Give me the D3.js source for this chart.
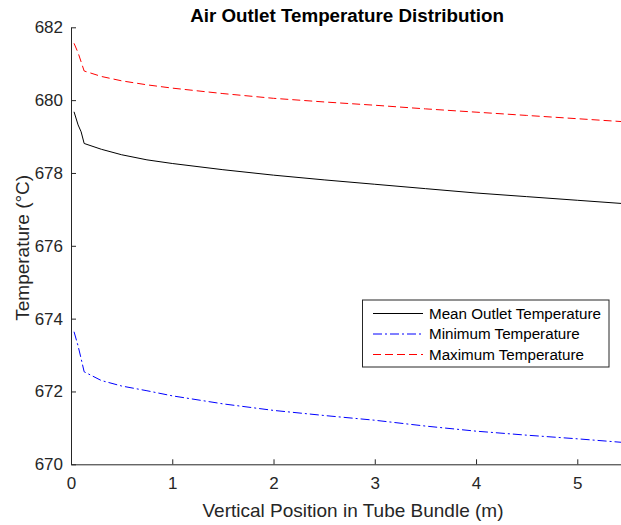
<!DOCTYPE html>
<html>
<head>
<meta charset="utf-8">
<script src="https://cdn.jsdelivr.net/npm/d3@7"></script>
<style>
  html, body { margin: 0; padding: 0; background: #fff; }
  svg { display: block; font-family: "Liberation Sans", Arial, Helvetica, sans-serif; }
</style>
</head>
<body>
<svg id="chart" width="621" height="525"></svg>
<script>
// Vertical position along the tube bundle (m)
const positions = [0.03, 0.07, 0.10, 0.13, 0.3, 0.5, 0.75, 1.0, 1.5, 2.0, 2.5, 3.0, 3.5, 4.0, 4.5, 5.0, 5.5];

// Outlet air temperatures (°C) at each position
const meanTemp = [679.68, 679.32, 679.13, 678.81, 678.65, 678.50, 678.36, 678.26, 678.09, 677.94, 677.81, 677.69, 677.57, 677.45, 677.35, 677.25, 677.15];
const minTemp  = [673.64, 673.25, 672.90, 672.54, 672.30, 672.15, 672.02, 671.88, 671.66, 671.48, 671.34, 671.21, 671.05, 670.91, 670.80, 670.70, 670.59];
const maxTemp  = [681.56, 681.30, 681.05, 680.80, 680.65, 680.53, 680.42, 680.33, 680.18, 680.05, 679.95, 679.86, 679.76, 679.67, 679.58, 679.49, 679.40];

const xTicks = [0, 1, 2, 3, 4, 5];
const yTicks = [670, 672, 674, 676, 678, 680, 682];

const seriesNames = ["Mean Outlet Temperature", "Minimum Temperature", "Maximum Temperature"];

const svg = d3.select("#chart");
const axisColor = "#262626";

const x = d3.scaleLinear().domain([0, 5.56]).range([71, 634]);
const y = d3.scaleLinear().domain([670, 682]).range([464.3, 27.3]);

// Clip region for the plot area
svg.append("clipPath").attr("id", "plotClip")
  .append("rect").attr("x", 71).attr("y", 20).attr("width", 563).attr("height", 450);

// Axes (ticks drawn inward)
const xAxis = svg.append("g")
  .attr("transform", `translate(0,${y(670)})`)
  .call(d3.axisBottom(x).tickValues(xTicks).tickFormat(d3.format("d")).tickSizeInner(-5).tickSizeOuter(0).tickPadding(13));
const yAxis = svg.append("g")
  .attr("transform", `translate(${x(0)},0)`)
  .call(d3.axisLeft(y).tickValues(yTicks).tickFormat(d3.format("d")).tickSizeInner(-5).tickSizeOuter(0).tickPadding(8));

[xAxis, yAxis].forEach(g => {
  g.select(".domain").attr("stroke", axisColor).attr("stroke-width", 1);
  g.selectAll(".tick line").attr("stroke", axisColor).attr("stroke-width", 1);
  g.selectAll(".tick text").attr("fill", axisColor).attr("font-size", 17)
    .attr("font-family", "'Liberation Sans', Arial, sans-serif");
});

// Data lines
const styles = [
  { values: meanTemp, color: "#000000", dash: null },
  { values: minTemp,  color: "#0000ff", dash: "9,3,2,3" },
  { values: maxTemp,  color: "#ff0000", dash: "8,4" }
];

const line = d3.line().x(d => x(d[0])).y(d => y(d[1]));

styles.forEach(s => {
  svg.append("path")
    .datum(positions.map((p, i) => [p, s.values[i]]))
    .attr("clip-path", "url(#plotClip)")
    .attr("fill", "none")
    .attr("stroke", s.color)
    .attr("stroke-width", 1)
    .attr("stroke-dasharray", s.dash)
    .attr("d", line);
});

// Title
svg.append("text")
  .attr("x", 347).attr("y", 22)
  .attr("text-anchor", "middle")
  .attr("font-size", 18.8).attr("font-weight", "bold")
  .attr("fill", "#000")
  .text("Air Outlet Temperature Distribution");

// Axis labels
svg.append("text")
  .attr("x", 353).attr("y", 517)
  .attr("text-anchor", "middle")
  .attr("font-size", 19)
  .attr("fill", axisColor)
  .text("Vertical Position in Tube Bundle (m)");

svg.append("text")
  .attr("transform", `translate(29,${(y(670) + y(682)) / 2 + 2}) rotate(-90)`)
  .attr("text-anchor", "middle")
  .attr("font-size", 19)
  .attr("fill", axisColor)
  .text("Temperature (°C)");

// Legend
const legend = svg.append("g");
legend.append("rect")
  .attr("x", 362.5).attr("y", 300).attr("width", 246.5).attr("height", 67)
  .attr("fill", "#fff").attr("stroke", axisColor).attr("stroke-width", 1);

const rowY = [313.5, 334, 354.5];
styles.forEach((s, i) => {
  legend.append("line")
    .attr("x1", 373).attr("x2", 423)
    .attr("y1", rowY[i]).attr("y2", rowY[i])
    .attr("stroke", s.color).attr("stroke-width", 1)
    .attr("stroke-dasharray", s.dash);
  legend.append("text")
    .attr("x", 429).attr("y", rowY[i])
    .attr("dy", "0.35em")
    .attr("font-size", 15.2)
    .attr("fill", "#000")
    .text(seriesNames[i]);
});
</script>
</body>
</html>
